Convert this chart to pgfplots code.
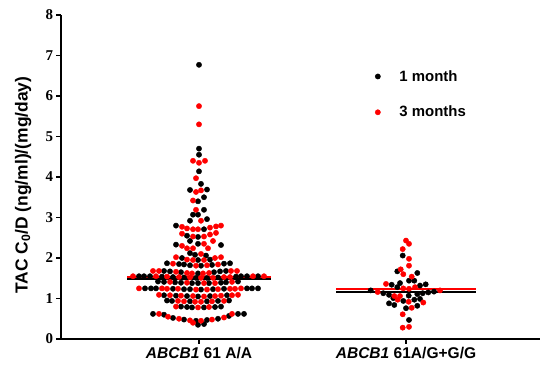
\documentclass[border=0pt]{standalone}
\usepackage{pgfplots}
\pgfplotsset{compat=1.18}
\usepackage{fontspec}
\setmainfont{Liberation Sans}
\newfontfamily\timesb{Liberation Serif}
\begin{document}
\begin{tikzpicture}
\begin{axis}[
  scale only axis, width=479bp, height=324bp,
  xmin=61, xmax=540, ymin=0, ymax=8,
  axis x line*=bottom, axis y line*=left,
  axis line style={line width=1.4bp, black},
  xtick={199,406},
  xticklabels={{\textit{ABCB1} 61 A/A},{\textit{ABCB1} 61A/G+G/G}},
  ytick={0,1,...,8},
  tick align=outside, major tick length=4.5bp,
  every tick/.style={black, line width=1.4bp},
  yticklabel style={font=\timesb\bfseries\fontsize{15}{15}\selectfont},
  xticklabel style={font=\bfseries\fontsize{15.6}{15.6}\selectfont},
  /pgf/number format/assume math mode=true,
  ylabel={TAC C\textsubscript{0}/D (ng/ml)/(mg/day)},
  ylabel style={font=\bfseries\fontsize{17.5}{17.5}\selectfont, at={(axis description cs:-0.079,0.475)}, anchor=center},
  legend style={draw=none, fill=none, at={(axis cs:372,6.04)}, anchor=west,
    font=\bfseries\fontsize{15}{15}\selectfont, row sep=19.5bp},
  legend cell align=left,
  clip=false,
]
% group 1, 1 month
\addplot[only marks, mark=*, color=black, mark size=2.65bp] coordinates {
(199,6.77) (199,4.70) (199,4.55) (199,4.14) (201,3.83) (190,3.68) (207,3.69) (204,3.50) (198,3.40) (204,3.19) (193,3.07) (198,3.07) (190,2.92) (207,2.96)
(176,2.80) (204,2.71)
(187,2.55) (198,2.52)
(190,2.42)
(176,2.33) (198,2.35) (221,2.32)
(190,2.12) (195,2.08) (206,2.06)
(182,2.00) (198,1.95) (210,1.96)
(167,1.87) (179,1.85) (184,1.84) (190,1.82) (201,1.81) (212,1.83) (224,1.86) (230,1.87)
(164,1.68) (170,1.67) (181,1.65) (198,1.62) (214,1.65) (220,1.67) (226,1.68)
(139,1.55) (144,1.55) (150,1.55) (162,1.54) (173,1.53) (184,1.52) (196,1.51) (207,1.51) (218,1.52) (236,1.54) (241,1.55) (247,1.55) (258,1.55)
(158,1.42) (164,1.41) (175,1.40) (181,1.39) (192,1.38) (198,1.38) (209,1.38) (221,1.39) (226,1.40) (238,1.42)
(145,1.25) (151,1.25) (156,1.25) (173,1.24) (184,1.23) (190,1.23) (201,1.22) (213,1.23) (224,1.24) (247,1.25) (252,1.25) (258,1.25)
(164,1.08) (176,1.07) (187,1.06) (198,1.05) (210,1.06) (227,1.08)
(167,0.95) (172,0.94) (190,0.93) (207,0.93) (218,0.94) (229,0.95)
(181,0.80) (187,0.79) (192,0.78) (204,0.78) (215,0.79) (221,0.80)
(153,0.62) (164,0.60) (238,0.62) (244,0.62)
(173,0.52) (184,0.48) (196,0.45) (207,0.47) (218,0.50) (229,0.57)
(198,0.35) (204,0.37)
};
\addlegendentry{\hspace{17bp}1 month}
% group 1, 3 months
\addplot[only marks, mark=*, color=red, mark size=2.65bp] coordinates {
(199,5.75) (199,5.30) (193,4.40) (199,4.35) (205,4.40) (196,3.97) (196,3.63) (201,3.67) (193,3.42) (196,3.19) (201,2.92)
(182,2.77) (187,2.73) (193,2.71) (198,2.71) (210,2.75) (216,2.78) (221,2.80)
(182,2.60) (193,2.53) (204,2.53) (210,2.58) (216,2.62)
(213,2.42)
(182,2.30) (204,2.35)
(187,2.24) (193,2.24) (208,2.24)
(201,2.10)
(176,2.02) (187,1.96) (193,1.95) (204,1.95) (215,2.00) (221,2.02)
(173,1.86) (196,1.81) (207,1.82) (218,1.84)
(153,1.68) (159,1.68) (176,1.66) (187,1.63) (192,1.62) (203,1.62) (209,1.63) (231,1.68) (237,1.68)
(133,1.55) (156,1.55) (167,1.54) (179,1.53) (190,1.52) (201,1.51) (213,1.51) (224,1.53) (230,1.53) (253,1.55) (264,1.55)
(170,1.41) (187,1.39) (204,1.38) (215,1.38) (232,1.41)
(139,1.25) (162,1.25) (167,1.24) (178,1.24) (196,1.22) (207,1.22) (218,1.23) (230,1.24) (235,1.24) (241,1.25)
(159,1.09) (170,1.08) (181,1.07) (193,1.06) (204,1.05) (215,1.06) (221,1.07) (232,1.08) (238,1.09)
(178,0.94) (184,0.93) (195,0.92) (201,0.92) (212,0.93) (224,0.94)
(176,0.80) (198,0.78) (209,0.79)
(159,0.62) (232,0.62)
(168,0.55) (179,0.50) (190,0.46) (201,0.45) (212,0.48) (224,0.53)
(193,0.40)
};
\addlegendentry{\hspace{17bp}3 months}
% group 2, 1 month
\addplot[only marks, mark=*, color=black, mark size=2.65bp, forget plot] coordinates {
(397.3,1.67) (417.3,1.63) (409,1.44) (414.3,1.44) (391.7,1.34) (400,1.38) (420,1.32) (425.7,1.35) (397.3,1.28) (402.7,2.06)
(370.7,1.20) (383.3,1.13) (389,1.09) (408.7,1.07) (417.3,1.11) (422.7,1.13) (428.3,1.15) (434,1.17)
(393.3,1.01) (403.3,0.94) (414.3,0.97) (420,0.99) (389,0.88) (394.3,0.84) (406,0.76) (417.3,0.82) (409,0.47)
};
% group 2, 3 months
\addplot[only marks, mark=*, color=red, mark size=2.65bp, forget plot] coordinates {
(406,2.43) (409,2.35) (402.7,2.22) (409,1.98) (409,1.81) (400.7,1.72) (403.3,1.60) (411.7,1.54) (386,1.36)
(403.3,1.25) (409,1.24) (415,1.28) (377.7,1.16) (394.3,1.06) (400,1.06) (440,1.20) (397.7,0.97) (408.7,0.92)
(423.3,0.90) (411.7,0.77) (402.7,0.61) (402.7,0.28) (409,0.30)
};
% mean lines
\addplot[black, line width=2bp, forget plot] coordinates {(127,1.47) (271,1.47)};
\addplot[red, line width=2bp, forget plot] coordinates {(127,1.53) (271,1.53)};
\addplot[black, line width=2bp, forget plot] coordinates {(336,1.16) (476,1.16)};
\addplot[red, line width=2bp, forget plot] coordinates {(336,1.23) (476,1.23)};
\end{axis}
\path (-61bp,-26bp) rectangle (481bp,339bp);
\end{tikzpicture}
\end{document}
